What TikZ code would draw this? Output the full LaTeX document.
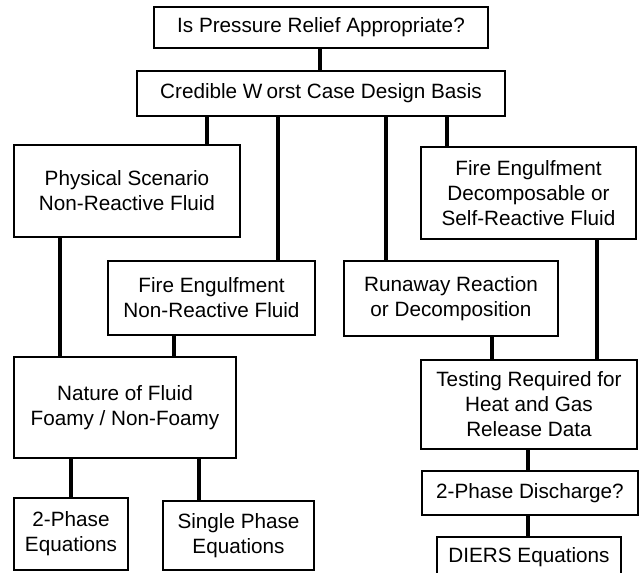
\documentclass[tikz,border=0pt]{standalone}
\usepackage{fontspec}
\setmainfont{Liberation Sans}
\begin{document}
\begin{tikzpicture}[x=1pt,y=-1pt,
  box/.style={draw, line width=1.3pt, inner sep=0pt, align=center,
    font=\fontsize{20.7}{25}\selectfont},
  conn/.style={line width=3.2pt}]
\useasboundingbox (0,0) rectangle (641,573);
\clip (0,0) rectangle (641,573);
% column positions of connectors
\coordinate (xa) at (320,0);
\coordinate (xb) at (207,0);
\coordinate (xc) at (278,0);
\coordinate (xd) at (386,0);
\coordinate (xe) at (447,0);
\coordinate (xf) at (60,0);
\coordinate (xg) at (174,0);
\coordinate (xh) at (71,0);
\coordinate (xi) at (199,0);
\coordinate (xj) at (492,0);
\coordinate (xk) at (597,0);
\coordinate (xl) at (528,0);
% boxes
\node[box, minimum width=334pt, minimum height=41pt] (q) at (321,27.5) {Is Pressure Relief Appropriate?};
\node[box, minimum width=368pt, minimum height=45pt] (cw) at (321,93.5) {Credible W\kern0.2em orst Case Design Basis};
\node[box, minimum width=226pt, minimum height=92pt] (phys) at (127,191) {Physical Scenario\\Non-Reactive Fluid};
\node[box, minimum width=215pt, minimum height=92pt] (fed) at (528.5,193) {Fire Engulfment\\Decomposable or\\Self-Reactive Fluid};
\node[box, minimum width=207pt, minimum height=74pt] (fen) at (211.5,298) {Fire Engulfment\\Non-Reactive Fluid};
\node[box, minimum width=214pt, minimum height=75pt] (run) at (451,298.5) {Runaway Reaction\\or Decomposition};
\node[box, minimum width=222pt, minimum height=101pt] (nat) at (125,407.5) {Nature of Fluid\\Foamy / Non-Foamy};
\node[box, minimum width=216pt, minimum height=89pt] (test) at (529,404.5) {Testing Required for\\Heat and Gas\\Release Data};
\node[box, minimum width=216pt, minimum height=44pt] (disc) at (530,493) {2-Phase Discharge?};
\node[box, minimum width=184pt, minimum height=40pt] (diers) at (529,557) {DIERS Equations};
\node[box, minimum width=114pt, minimum height=72pt] (tp) at (71,534) {2-Phase\\Equations};
\node[box, minimum width=151pt, minimum height=69pt] (sp) at (238.5,535.5) {Single Phase\\Equations};
% connectors
\draw[conn] (q.south -| xa) -- (cw.north -| xa);
\draw[conn] (cw.south -| xb) -- (phys.north -| xb);
\draw[conn] (cw.south -| xc) -- (fen.north -| xc);
\draw[conn] (cw.south -| xd) -- (run.north -| xd);
\draw[conn] (cw.south -| xe) -- (fed.north -| xe);
\draw[conn] (phys.south -| xf) -- (nat.north -| xf);
\draw[conn] (fen.south -| xg) -- (nat.north -| xg);
\draw[conn] (nat.south -| xh) -- (tp.north -| xh);
\draw[conn] (nat.south -| xi) -- (sp.north -| xi);
\draw[conn] (run.south -| xj) -- (test.north -| xj);
\draw[conn] (fed.south -| xk) -- (test.north -| xk);
\draw[conn] (test.south -| xl) -- (disc.north -| xl);
\draw[conn] (disc.south -| xl) -- (diers.north -| xl);
\end{tikzpicture}
\end{document}
